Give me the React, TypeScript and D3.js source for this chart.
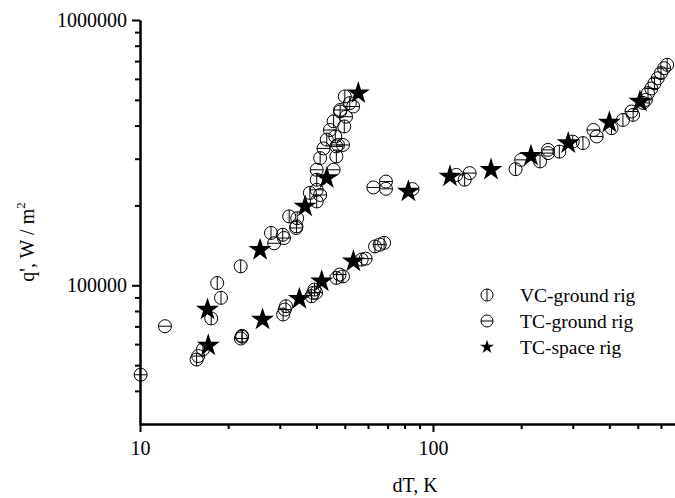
import React, { useRef, useEffect } from "react";
import * as d3 from "d3";

// dT (K), q' (W/m2)
const vcGround: [number, number][] = [
  [18.35, 102000], [18.9, 89700], [17.5, 75000], [22.07, 117900], [22.3, 64000],
  [28.0, 157500], [30.7, 155000], [32.3, 181800], [34.4, 179000], [38.0, 223000],
  [40.1, 250000], [41.2, 301600], [43.4, 354000], [45.8, 415000], [48.2, 452000],
  [46.8, 306000], [49.8, 397000], [52.0, 486000], [46.4, 364000], [50.0, 515000],
  [40.1, 207000], [34.2, 166700],
  [15.6, 52500], [16.4, 57300], [30.8, 77600], [31.5, 83400], [38.5, 91000],
  [39.4, 96300], [46.8, 106600], [49.3, 108000], [57.1, 125000], [63.4, 140100],
  [68.1, 144500], [22.3, 64500],
  [128.3, 250000], [191.4, 274000], [232, 293000], [270, 319000], [300, 348000],
  [325, 343500], [407, 391000], [445, 420000], [482, 439000], [542, 530000],
  [570, 577000], [600, 631000], [630, 678000],
];

const tcGround: [number, number][] = [
  [10.05, 46000], [12.17, 70100], [15.8, 54100], [22.1, 63000], [28.7, 144000],
  [31, 150700], [34.1, 164500], [40.1, 229000], [41.2, 219000], [42.3, 328000],
  [44.5, 385000], [40.1, 272500], [45.8, 272500], [46.8, 333700], [49.3, 338000],
  [50.5, 432000], [53.4, 472000], [47.4, 338000], [48.2, 458000],
  [31.2, 81000], [39.0, 93600], [39.9, 93800], [48.0, 109700], [58.9, 126000],
  [65.8, 142300],
  [62.6, 233800], [69.1, 246000], [69.1, 231000], [85.1, 230500], [120.1, 260600],
  [133.4, 264800], [200, 297000], [247, 315000], [247, 324000], [353, 385000],
  [362, 364000], [476, 452000], [521, 487000], [533, 500000], [556, 552000],
  [585, 603000], [615, 658000],
];

const tcSpace: [number, number][] = [
  [17.0, 81000], [17.1, 59300], [25.7, 136000], [36.6, 198300], [43.4, 253600],
  [55.6, 530000], [26.2, 74300], [35.0, 88900], [41.7, 103500], [53.5, 123100],
  [82.4, 225800], [114.3, 257200], [157.8, 272700], [216, 307700], [289.5, 343500],
  [400, 410800], [508.7, 492500],
];

const xMajor = [10, 100];
const xMinor = [20, 30, 40, 50, 60, 70, 80, 90, 200, 300, 400, 500, 600];
const yMajor = [100000, 1000000];
const yMinor = [40000, 50000, 60000, 70000, 80000, 90000, 200000, 300000, 400000, 500000, 600000, 700000, 800000, 900000];

const legendItems = ["VC-ground rig", "TC-ground rig", "TC-space rig"];

const font = "'Liberation Serif', 'Times New Roman', serif";

function App() {
  const svgRef = useRef<SVGSVGElement>(null);

  useEffect(() => {
    const svg = d3.select(svgRef.current);
    svg.selectAll("*").remove();

    const x = d3.scaleLog().domain([10, 670]).range([140, 675]);
    const y = d3.scaleLog().domain([30000, 1000000]).range([424, 20]);

    const r = 6.5;
    const g = svg.append("g");

    const circleMarker = (sel, data, vertical) => {
      const m = sel
        .selectAll(null)
        .data(data)
        .join("g")
        .attr("transform", (d) => `translate(${x(d[0])},${y(d[1])})`);
      m.append("circle").attr("r", r).attr("fill", "none").attr("stroke", "#000").attr("stroke-width", 1);
      m.append("line")
        .attr("x1", vertical ? 0 : -r)
        .attr("x2", vertical ? 0 : r)
        .attr("y1", vertical ? -r : 0)
        .attr("y2", vertical ? r : 0)
        .attr("stroke", "#000")
        .attr("stroke-width", 1);
    };

    circleMarker(g, vcGround, true);
    circleMarker(g, tcGround, false);

    const star = d3.symbol(d3.symbolStar, 165);
    g.selectAll(null)
      .data(tcSpace)
      .join("path")
      .attr("d", star)
      .attr("transform", (d) => `translate(${x(d[0])},${y(d[1])})`)
      .attr("fill", "#000");

    // axes
    const axisStyle = (ax) => {
      ax.selectAll("path").attr("stroke-width", 2);
      ax.selectAll("line").attr("stroke-width", 2);
      ax.selectAll("text").attr("font-family", font).attr("font-size", 20).attr("fill", "#000");
    };

    const xAxisMinor = svg.append("g").attr("transform", "translate(0,424)")
      .call(d3.axisBottom(x).tickValues(xMinor).tickSize(5).tickSizeOuter(0).tickFormat(() => ""));
    axisStyle(xAxisMinor);
    const xAxisMajor = svg.append("g").attr("transform", "translate(0,424)")
      .call(d3.axisBottom(x).tickValues(xMajor).tickSize(8).tickSizeOuter(0).tickPadding(9).tickFormat(d3.format("d")));
    axisStyle(xAxisMajor);

    const yAxisMinor = svg.append("g").attr("transform", "translate(140,0)")
      .call(d3.axisLeft(y).tickValues(yMinor).tickSize(5).tickSizeOuter(0).tickFormat(() => ""));
    axisStyle(yAxisMinor);
    const yAxisMajor = svg.append("g").attr("transform", "translate(140,0)")
      .call(d3.axisLeft(y).tickValues(yMajor).tickSize(8).tickSizeOuter(0).tickPadding(5).tickFormat(d3.format("d")));
    axisStyle(yAxisMajor);

    // axis titles
    svg.append("text")
      .attr("x", 415).attr("y", 492)
      .attr("text-anchor", "middle")
      .attr("font-family", font).attr("font-size", 20)
      .text("dT, K");

    const yt = svg.append("text")
      .attr("transform", "translate(34,242) rotate(-90)")
      .attr("text-anchor", "middle")
      .attr("font-family", font).attr("font-size", 20);
    yt.append("tspan").text("q', W / m");
    yt.append("tspan").attr("font-size", 13).attr("dy", -9).text("2");

    // legend
    const leg = svg.append("g");
    const rows = leg.selectAll(null).data(legendItems).join("g")
      .attr("transform", (d, i) => `translate(487,${295 + i * 26})`);
    rows.append("text")
      .attr("x", 33).attr("y", 7)
      .attr("font-family", font).attr("font-size", 19.5)
      .text((d) => d);
    rows.filter((d, i) => i < 2).append("circle")
      .attr("r", 6).attr("fill", "none").attr("stroke", "#000").attr("stroke-width", 1);
    rows.filter((d, i) => i < 2).append("line")
      .attr("x1", (d, i) => (i === 0 ? 0 : -6))
      .attr("x2", (d, i) => (i === 0 ? 0 : 6))
      .attr("y1", (d, i) => (i === 0 ? -6 : 0))
      .attr("y2", (d, i) => (i === 0 ? 6 : 0))
      .attr("stroke", "#000").attr("stroke-width", 1);
    rows.filter((d, i) => i === 2).append("path")
      .attr("d", d3.symbol(d3.symbolStar, 60)).attr("fill", "#000");
  }, []);

  return (
    <svg
      ref={svgRef}
      width={675}
      height={498}
      style={{ position: "absolute", left: 0, top: 0, background: "#fff" }}
    ></svg>
  );
}

export default App;
